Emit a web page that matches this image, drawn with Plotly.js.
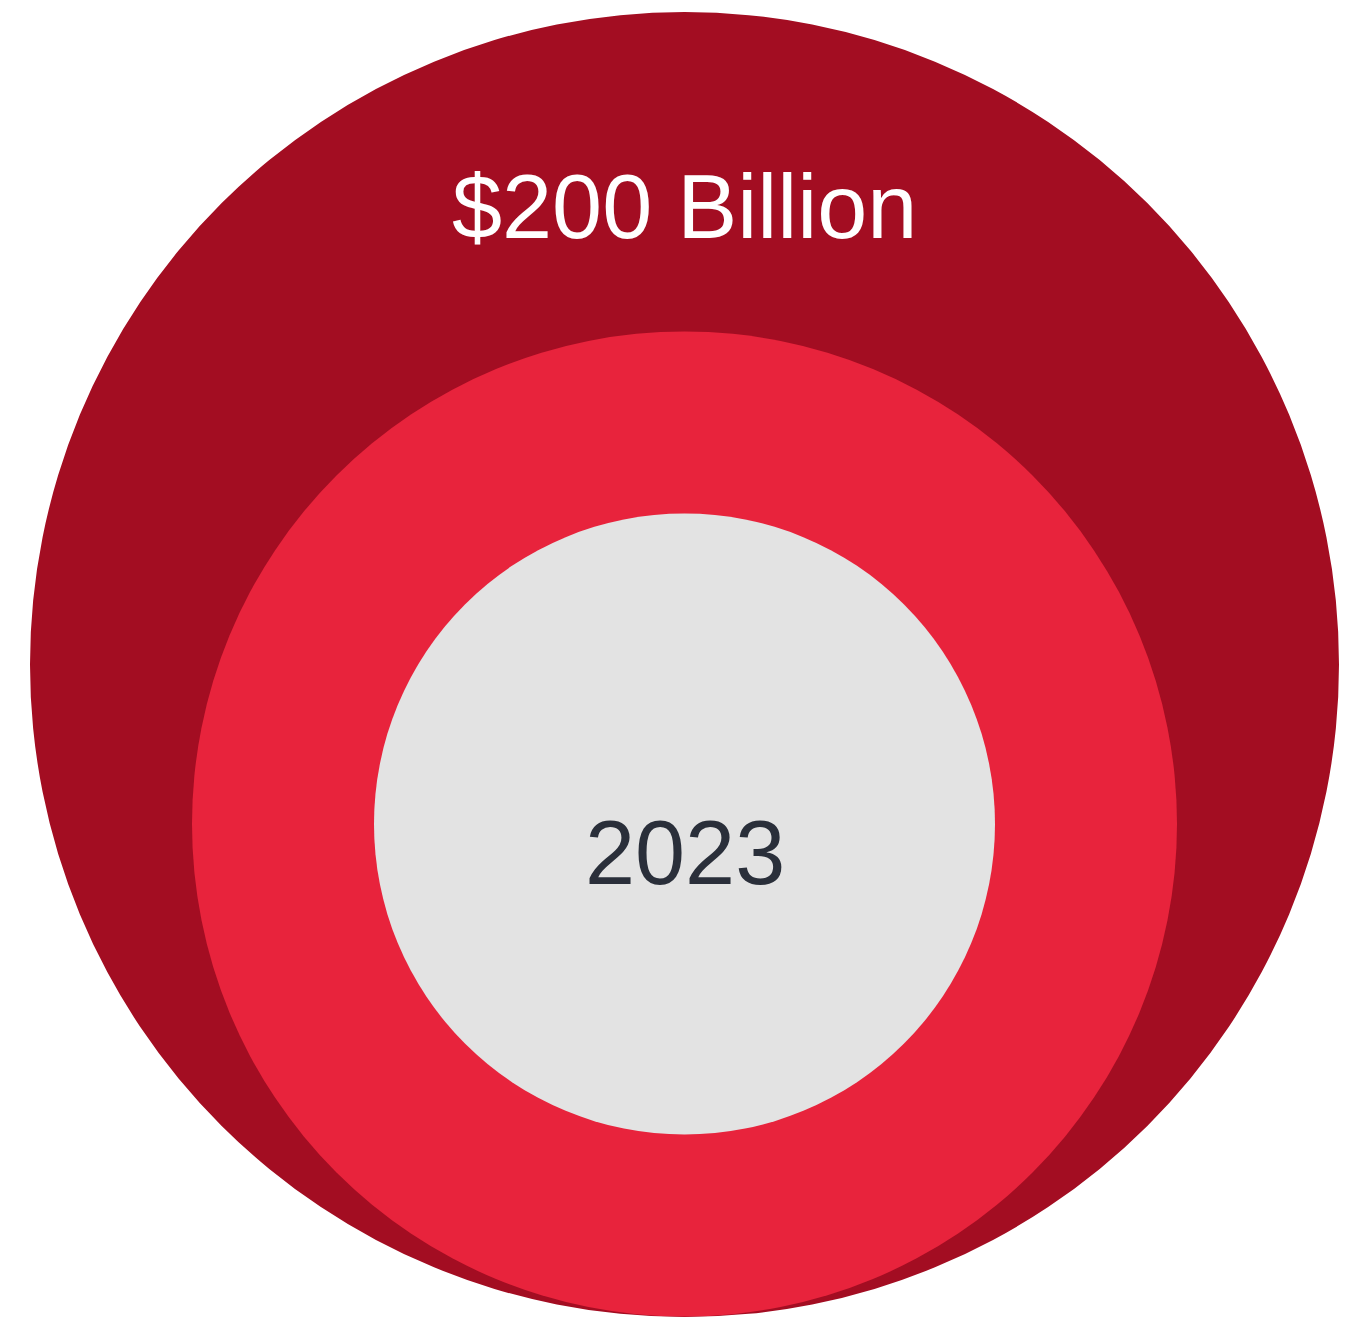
<!DOCTYPE html>
<html>
<head>
<meta charset="utf-8">
<script src="https://cdn.plot.ly/plotly-3.0.1.min.js"></script>
<style>html,body{margin:0;padding:0;background:#fff;}#chart{width:1364px;height:1317px;}</style>
</head>
<body>
<div id="chart"></div>
<script>
// Nested circles: labels, radii (chart units), colours
const ringLabels = ["$200 Billion", "", "2023"];
const ringRadii = [654.5, 492.5, 310.5];
const ringCenterY = [664.5, 824, 824];
const ringColors = ["#A30D22", "#E8233C", "#E3E3E3"];
const labelY = [207, null, 853];
const labelColors = ["#FFFFFF", "#FFFFFF", "#2A2F3A"];
const centerX = 684.5;

const shapes = ringRadii.map((r, i) => ({
  type: "circle", xref: "x", yref: "y",
  x0: centerX - r, x1: centerX + r,
  y0: ringCenterY[i] - r, y1: ringCenterY[i] + r,
  fillcolor: ringColors[i], line: {width: 0}, layer: "below"
}));
// outer ring is slightly flattened at the bottom
shapes[0].y0 = 12; shapes[0].y1 = 1317;

const annotations = ringLabels.map((t, i) => t ? ({
  x: centerX, y: labelY[i], xref: "x", yref: "y", text: t, showarrow: false,
  xanchor: "center", yanchor: "middle",
  font: {family: "Liberation Sans, Arial, Helvetica, sans-serif", size: 90, color: labelColors[i]}
}) : null).filter(a => a);

const trace = {x: [centerX], y: [ringCenterY[0]], mode: "markers", marker: {opacity: 0}, hoverinfo: "skip", showlegend: false};

Plotly.newPlot("chart", [trace], {
  width: 1364, height: 1317,
  margin: {l: 0, r: 0, t: 0, b: 0},
  paper_bgcolor: "#fff", plot_bgcolor: "#fff",
  xaxis: {range: [0, 1364], visible: false, fixedrange: true},
  yaxis: {range: [1317, 0], visible: false, fixedrange: true},
  shapes: shapes, annotations: annotations, showlegend: false
}, {displayModeBar: false, staticPlot: true});
</script>
</body>
</html>
